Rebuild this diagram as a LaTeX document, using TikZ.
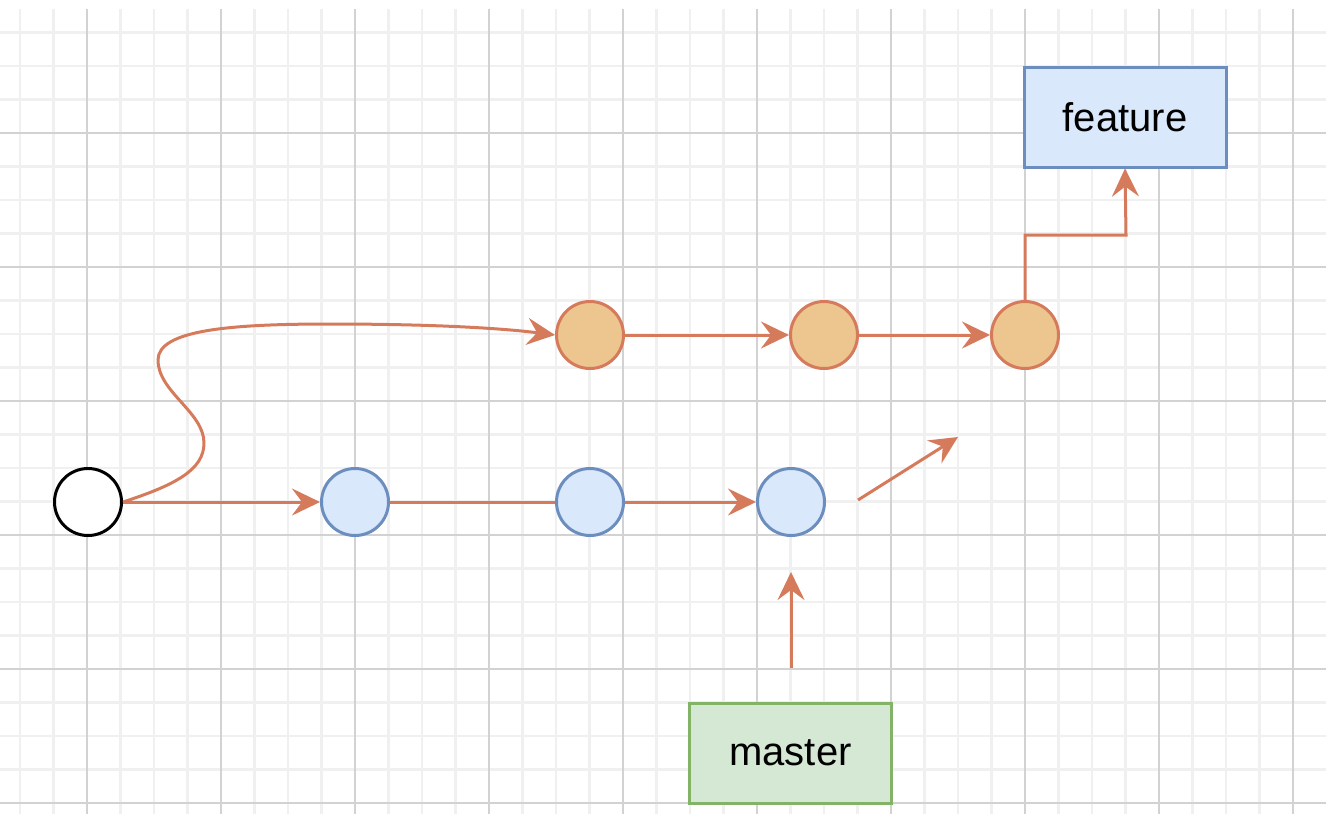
\documentclass[tikz,border=0pt]{standalone}
\usepackage{fontspec}
\setmainfont{Liberation Sans}
\usetikzlibrary{arrows.meta}
\def\EdgeColor{rgb,255:red,214;green,122;blue,92}
\def\MasterColor{rgb,255:red,218;green,232;blue,252}
\def\MasterDraw{rgb,255:red,108;green,142;blue,191}
\def\FeatColor{rgb,255:red,236;green,198;blue,142}
\def\BranchColor{rgb,255:red,213;green,232;blue,212}
\def\BranchDraw{rgb,255:red,130;green,179;blue,102}

\begin{document}
\begin{tikzpicture}[x=0.5pt,y=-0.5pt]
\tikzstyle{minor} = [draw=gray!12, line width=1.2pt]
\tikzstyle{major} = [draw=gray!35, line width=0.8pt]
\tikzstyle{commit} = [circle, draw=\MasterDraw, fill=\MasterColor, line width=1.5pt, minimum size=33.5pt, inner sep=0pt]
\tikzstyle{fcommit} = [circle, draw=\EdgeColor, fill=\FeatColor, line width=1.5pt, minimum size=33.5pt, inner sep=0pt]
\tikzstyle{root} = [circle, draw=black, fill=white, line width=1.5pt, minimum size=33.5pt, inner sep=0pt]
\tikzstyle{branch} = [rectangle, line width=1.5pt, minimum width=101pt, minimum height=50pt, font=\fontsize{20}{24}\selectfont]
\tikzstyle{connector} = [draw=\EdgeColor, line width=1.5pt, -{Stealth[length=14pt, width=13.5pt, inset=5pt]}]
\tikzstyle{line} = [draw=\EdgeColor, line width=1.5pt]

\useasboundingbox (0,0) rectangle (1326,814);

% grid
\foreach \x in {20,53.5,...,1326} \draw[minor] (\x,9) -- (\x,814);
\foreach \y in {32.5,66,...,814} \draw[minor] (0,\y) -- (1326,\y);
\foreach \x in {87,221,...,1326} \draw[major] (\x,9) -- (\x,814);
\foreach \y in {133,267,...,814} \draw[major] (0,\y) -- (1326,\y);

\node [root] at (88,502) (c0) {};
\node [commit] at (355,502) (b1) {};
\node [commit] at (590,502) (b2) {};
\node [commit] at (791,502) (b3) {};
\node [fcommit] at (590,335) (f1) {};
\node [fcommit] at (824,335) (f2) {};
\node [fcommit] at (1025,335) (f3) {};

\node [branch, draw=\BranchDraw, fill=\BranchColor] at (790.5,753) (master) {master};
\node [branch, draw=\MasterDraw, fill=\MasterColor] at (1125,117) (feature) {feature};

\coordinate (m0) at (791,668);
\coordinate (m1) at (791,572);
\coordinate (n0) at (858,500);
\coordinate (n1) at (958,437);

\path [connector] (c0) -- (b1);
\path [line] (b1) -- (b2);
\path [connector] (b2) -- (b3);
\path [connector] (f1) -- (f2);
\path [connector] (f2) -- (f3);
\path [connector] (c0.east) .. controls (175,485) and (204,470) .. (204,443)
  .. controls (204,412) and (158,392) .. (158,360)
  .. controls (158,330) and (230,324) .. (330,324)
  .. controls (430,324) and (500,328) .. (f1.west);
\path [connector] (f3.north) |- (1126,235) -- (feature.south);
\path [connector] (m0) -- (m1);
\path [connector] (n0) -- (n1);

\end{tikzpicture}
\end{document}
